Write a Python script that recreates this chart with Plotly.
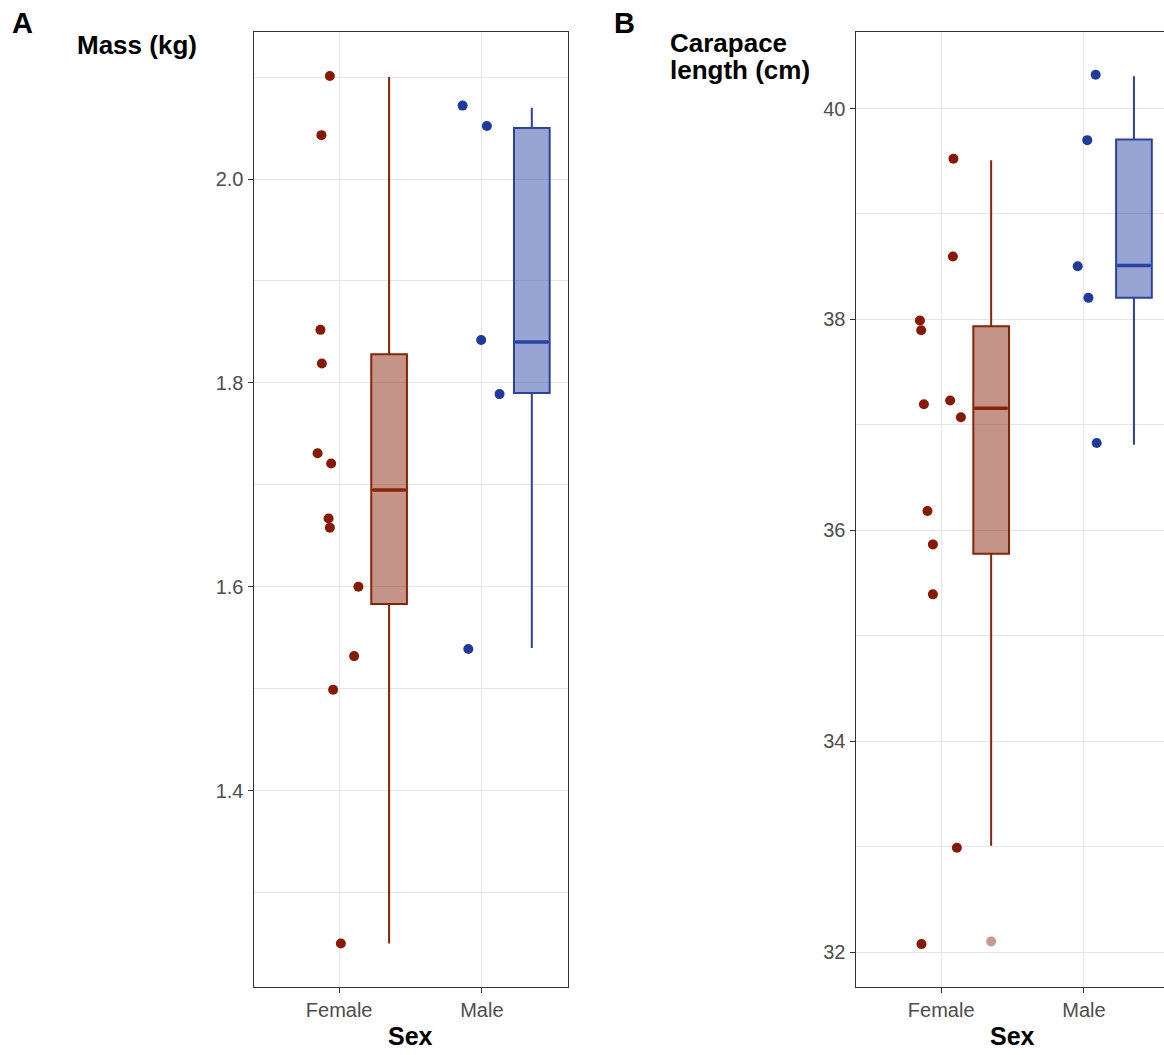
import plotly.graph_objects as go

# ---------------- data ----------------
categories = ["Female", "Male"]

# Panel A: body mass (kg) - individual (jittered) observations
mass_female = [2.101, 2.043, 1.852, 1.819, 1.731, 1.721, 1.667, 1.658, 1.600, 1.532, 1.499, 1.250]
mass_female_jitter = [-0.065, -0.124, -0.131, -0.121, -0.151, -0.056, -0.074, -0.065, 0.135, 0.105, -0.042, 0.012]
mass_male = [2.072, 2.052, 1.842, 1.789, 1.539]
mass_male_jitter = [-0.135, 0.035, -0.005, 0.124, -0.095]

# Panel A box statistics [Female, Male]
mass_q1 = [1.583, 1.790]
mass_median = [1.695, 1.840]
mass_q3 = [1.828, 2.050]
mass_low = [1.250, 1.540]
mass_high = [2.100, 2.070]

# Panel B: carapace length (cm)
cara_female = [39.523, 38.596, 37.989, 37.897, 37.230, 37.195, 37.071, 36.183, 35.866, 35.392, 32.989, 32.075]
cara_female_jitter = [0.086, 0.082, -0.149, -0.140, 0.063, -0.121, 0.138, -0.096, -0.058, -0.058, 0.110, -0.138]
cara_male = [40.320, 39.700, 38.504, 38.204, 36.828]
cara_male_jitter = [0.082, 0.023, -0.044, 0.031, 0.089]

cara_q1 = [35.778, 38.204]
cara_median = [37.157, 38.510]
cara_q3 = [37.935, 39.706]
cara_low = [33.007, 36.810]
cara_high = [39.510, 40.306]
cara_outlier_female = [32.10]

mass_ticks = [1.4, 1.6, 1.8, 2.0]
cara_ticks = [32, 34, 36, 38, 40]

# ---------------- style ----------------
W, H = 1164, 1055
RED_PT = "#881800"
RED_LN = "#8B2205"
RED_FILL = "rgba(139,42,20,0.5)"
BLUE_PT = "#1F3A9E"
BLUE_LN = "#2A42A6"
BLUE_FILL = "rgba(50,75,165,0.5)"
FONT = "Liberation Sans, Arial, sans-serif"
BOX_OFF = 0.35
BOX_W = 0.25

def px_x(p):
    return p / W

def px_y(p):
    return 1 - p / H

fig = go.Figure()

def add_panel(xa, ya, fem, fem_j, mal, mal_j, q1, med, q3, lo, hi):
    cols = [(RED_LN, RED_FILL), (BLUE_LN, BLUE_FILL)]
    for i in range(2):
        pos = i + 1 + BOX_OFF
        fig.add_trace(go.Box(
            x=[pos], q1=[q1[i]], median=[med[i]], q3=[q3[i]],
            lowerfence=[lo[i]], upperfence=[hi[i]],
            width=BOX_W, whiskerwidth=0,
            line=dict(color=cols[i][0], width=2),
            fillcolor=cols[i][1], boxpoints=False,
            xaxis=xa, yaxis=ya, showlegend=False, hoverinfo="skip"))
        # thicker median line
        fig.add_trace(go.Scatter(
            x=[pos - BOX_W / 2 + 0.01, pos + BOX_W / 2 - 0.01], y=[med[i], med[i]],
            mode="lines", line=dict(color=cols[i][0], width=3.5),
            xaxis=xa, yaxis=ya, showlegend=False, hoverinfo="skip"))
    fig.add_trace(go.Scatter(
        x=[1 + j for j in fem_j], y=fem, mode="markers",
        marker=dict(color=RED_PT, size=10), xaxis=xa, yaxis=ya, showlegend=False))
    fig.add_trace(go.Scatter(
        x=[2 + j for j in mal_j], y=mal, mode="markers",
        marker=dict(color=BLUE_PT, size=10), xaxis=xa, yaxis=ya, showlegend=False))

add_panel("x", "y", mass_female, mass_female_jitter, mass_male, mass_male_jitter,
          mass_q1, mass_median, mass_q3, mass_low, mass_high)
add_panel("x2", "y2", cara_female, cara_female_jitter, cara_male, cara_male_jitter,
          cara_q1, cara_median, cara_q3, cara_low, cara_high)

# boxplot outlier (panel B, Female)
fig.add_trace(go.Scatter(
    x=[1 + BOX_OFF] * len(cara_outlier_female), y=cara_outlier_female, mode="markers",
    marker=dict(color="rgba(139,28,0,0.45)", size=10),
    xaxis="x2", yaxis="y2", showlegend=False))

GRID = "#E6E6E6"
AX = "#333333"
TICKFONT = dict(family=FONT, size=20, color="#4D4D4D")

common_x = dict(
    tickmode="array", tickvals=[1, 2], ticktext=categories,
    showgrid=True, gridcolor=GRID, gridwidth=1.3, zeroline=False,
    showline=True, linecolor=AX, linewidth=1, mirror=True,
    ticks="outside", ticklen=5, tickcolor=AX, tickwidth=1.2,
    tickfont=TICKFONT, fixedrange=True)

y_dom = [px_y(986.7), px_y(32.3)]

fig.update_layout(
    width=W, height=H,
    margin=dict(l=0, r=0, t=0, b=0),
    paper_bgcolor="white", plot_bgcolor="white",
    font=dict(family=FONT),
    xaxis=dict(domain=[px_x(253.5), px_x(567.5)], range=[0.4, 2.6], anchor="y", **common_x),
    xaxis2=dict(domain=[px_x(855.5), 1.0], range=[0.4, 0.4 + (W - 855.5) / 142.8], anchor="y2", **common_x),
    yaxis=dict(domain=y_dom, range=[1.2077, 2.1439], anchor="x",
               tickmode="array", tickvals=mass_ticks,
               ticktext=["%.1f" % v for v in mass_ticks],
               showgrid=True, gridcolor=GRID, gridwidth=1.3, zeroline=False,
               minor=dict(tickmode="linear", tick0=0, dtick=0.1, showgrid=True,
                          gridcolor=GRID, gridwidth=0.8, ticks=""),
               showline=True, linecolor=AX, linewidth=1, mirror=True,
               ticks="outside", ticklen=5, tickcolor=AX, tickwidth=1.2,
               tickfont=TICKFONT, fixedrange=True),
    yaxis2=dict(domain=y_dom, range=[31.671, 40.7227], anchor="x2",
                tickmode="array", tickvals=cara_ticks,
                ticktext=[str(v) for v in cara_ticks],
                showgrid=True, gridcolor=GRID, gridwidth=1.3, zeroline=False,
                minor=dict(tickmode="linear", tick0=0, dtick=1, showgrid=True,
                           gridcolor=GRID, gridwidth=0.8, ticks=""),
                showline=True, linecolor=AX, linewidth=1, mirror=False,
                ticks="outside", ticklen=5, tickcolor=AX, tickwidth=1.2,
                tickfont=TICKFONT, fixedrange=True),
)

def ann(text, x, y, size, xanchor="left", yanchor="middle"):
    fig.add_annotation(text=text, x=x, y=y, xref="paper", yref="paper",
                       xanchor=xanchor, yanchor=yanchor, showarrow=False,
                       font=dict(family=FONT, size=size, color="black"))

ann("<b>A</b>", px_x(10), px_y(23), 29)
ann("<b>B</b>", px_x(612), px_y(23), 29)
ann("<b>Mass (kg)</b>", px_x(75), px_y(45), 26)
ann("<b>Carapace</b>", px_x(668), px_y(43), 26)
ann("<b>length (cm)</b>", px_x(668), px_y(70), 26)
ann("<b>Sex</b>", px_x(410.5), px_y(1036), 25, xanchor="center")
ann("<b>Sex</b>", px_x(1012), px_y(1036), 25, xanchor="center")

fig.write_html("out.html", config=dict(displayModeBar=False))
